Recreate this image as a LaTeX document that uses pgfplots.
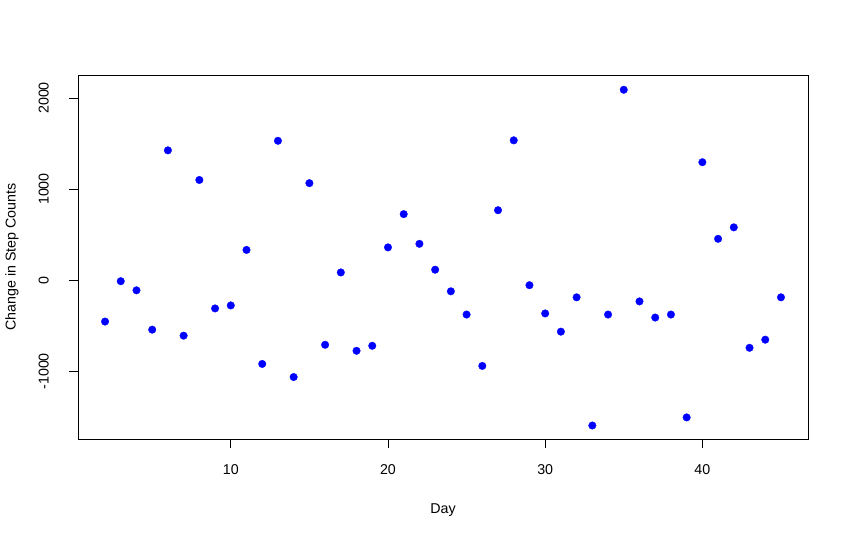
\documentclass[border=0pt]{standalone}
\usepackage{pgfplots}
\pgfplotsset{compat=1.18}
\usepackage{fontspec}
\setmainfont{Liberation Sans}
\begin{document}
\begin{tikzpicture}
\path[use as bounding box] (-78bp,-98bp) rectangle (771bp,439bp);
\begin{axis}[
    at={(0,0)}, anchor=south west,
    scale only axis, width=730bp, height=364bp,
    xmin=0.28, xmax=46.72, ymin=-1743, ymax=2252,
    xtick={10,20,30,40}, ytick={-1000,0,1000,2000},
    tick pos=left, tick align=outside, major tick length=9bp,
    every tick/.style={black, line width=0.8bp},
    axis line style={line width=0.8bp},
    /pgf/number format/assume math mode=true,
    /pgf/number format/1000 sep={},
    font=\fontsize{14.3}{16}\selectfont,
    yticklabel style={rotate=90, anchor=south, inner sep=2bp},
    xticklabel style={anchor=north, inner sep=2bp},
    xticklabel shift=14bp, yticklabel shift=18bp,
    xlabel={Day}, ylabel={Change in Step Counts},
    xlabel style={at={(axis description cs:0.5,-0.195)}, anchor=center},
    ylabel style={at={(axis description cs:-0.0904,0.5)}, anchor=center},
]
\addplot[only marks, mark=*, mark size=3.8bp, blue, mark options={fill=blue, draw=blue, line width=0.3bp}] coordinates {
(2,-454) (3,-11) (4,-111) (5,-543) (6,1425) (7,-609) (8,1100) (9,-310) (10,-277)
(11,332) (12,-919) (13,1530) (14,-1063) (15,1065) (16,-709) (17,85) (18,-775) (19,-720)
(20,360) (21,725) (22,399) (23,115) (24,-122) (25,-377) (26,-941) (27,768) (28,1535)
(29,-55) (30,-365) (31,-565) (32,-188) (33,-1595) (34,-377) (35,2090) (36,-233) (37,-410)
(38,-377) (39,-1506) (40,1295) (41,454) (42,580) (43,-742) (44,-653) (45,-188)
};
\end{axis}
\end{tikzpicture}
\end{document}
